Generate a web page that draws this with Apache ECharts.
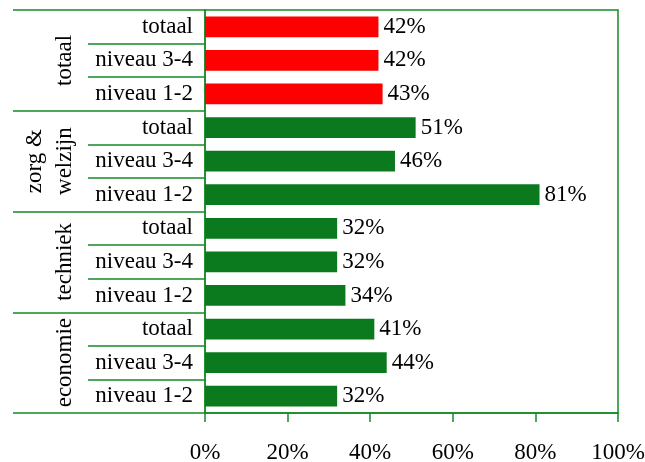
<!DOCTYPE html>
<html>
<head>
<meta charset="utf-8">
<script src="https://cdn.jsdelivr.net/npm/echarts@6/dist/echarts.min.js"></script>
<style>
  html, body { margin: 0; padding: 0; background: #fff; }
  #chart { width: 645px; height: 462px; }
</style>
</head>
<body>
<div id="chart"></div>
<script>
// groepen (van boven naar onder) en niveaus per groep
const groups = ["totaal", "zorg &\nwelzijn", "techniek", "economie"];
const levels = ["totaal", "niveau 3-4", "niveau 1-2"];
// percentages per groep, zelfde volgorde als levels
const totaalValues = [42, 42, 43];
const zorgValues = [51, 46, 81];
const techniekValues = [32, 32, 34];
const economieValues = [41, 44, 32];
const xTicks = [0, 20, 40, 60, 80, 100];

const green = "#0b7a1f";
const lineGreen = "#168a26";
const red = "#ff0000";
const font = "'Liberation Serif', 'Times New Roman', serif";
const fs = 23;

const groupValues = [totaalValues, zorgValues, techniekValues, economieValues];
let rowLabels = [];
let barData = [];
groupValues.forEach((vals, g) => {
  vals.forEach((v, i) => {
    rowLabels.push(levels[i]);
    barData.push({
      value: v,
      itemStyle: { color: g === 0 ? red : green }
    });
  });
});

const chartObj = echarts.init(document.getElementById("chart"));
const option = {
  animation: false,
  grid: {
    left: 205,
    right: 27,
    top: 10,
    bottom: 49,
    containLabel: false,
    outerBoundsMode: "none",
    show: true,
    borderColor: lineGreen,
    borderWidth: 1.5
  },
  xAxis: {
    type: "value",
    min: xTicks[0],
    max: xTicks[xTicks.length - 1],
    interval: 20,
    splitLine: { show: false },
    axisLine: { show: true, lineStyle: { color: lineGreen, width: 1.5 } },
    axisTick: { show: true, length: 9, lineStyle: { color: lineGreen, width: 1.5 } },
    axisLabel: {
      margin: 28,
      color: "#000",
      fontFamily: font,
      fontSize: fs,
      formatter: "{value}%"
    }
  },
  yAxis: [
    {
      type: "category",
      inverse: true,
      data: rowLabels,
      axisLine: { show: true, lineStyle: { color: lineGreen, width: 1.5 } },
      axisTick: { show: true, length: 117, lineStyle: { color: lineGreen, width: 1.5 } },
      axisLabel: {
        interval: 0,
        margin: 12,
        color: "#000",
        fontFamily: font,
        fontSize: fs
      }
    },
    {
      type: "category",
      inverse: true,
      position: "left",
      data: groups,
      axisLine: { show: false },
      axisTick: { show: true, length: 192, lineStyle: { color: lineGreen, width: 1.5 } },
      axisLabel: {
        interval: 0,
        rotate: 90,
        margin: 125,
        align: "center",
        verticalAlign: "bottom",
        lineHeight: 30,
        color: "#000",
        fontFamily: font,
        fontSize: fs
      }
    }
  ],
  series: [
    {
      type: "bar",
      yAxisIndex: 0,
      barWidth: "62%",
      data: barData,
      label: {
        show: true,
        position: "right",
        distance: 5,
        color: "#000",
        fontFamily: font,
        fontSize: fs,
        formatter: "{c}%"
      }
    }
  ]
};
chartObj.setOption(option);
</script>
</body>
</html>
